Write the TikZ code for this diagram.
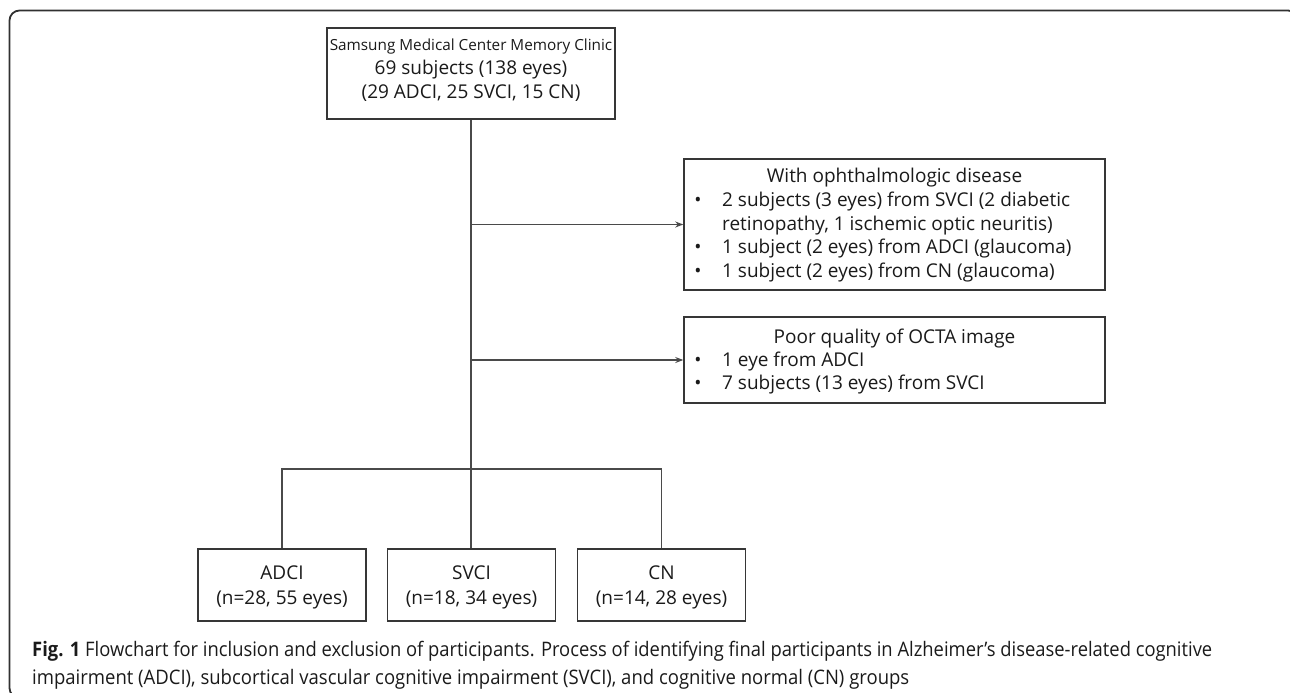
\documentclass[tikz,border=0pt]{standalone}
\usepackage{graphicx}
\usepackage{fontspec}
\setmainfont{Open Sans}
\newfontfamily\capfont{Open Sans}[FakeStretch=0.74]
\usetikzlibrary{arrows.meta}
\definecolor{boxline}{HTML}{363636}
\definecolor{connline}{HTML}{4A4A4A}
\definecolor{ink}{HTML}{1A1A1A}
\tikzset{
  framebox/.style={draw=ink!90, line width=1.8pt, rounded corners=10pt},
  flowbox/.style={draw=boxline, line width=1.5pt, rectangle, inner sep=0pt, fill=white},
  conn/.style={draw=connline, line width=1.3pt},
  arr/.style={conn, -{Stealth[length=8pt,width=6pt]}},
  txt/.style={inner sep=0pt, text=ink, font=\fontsize{19}{22}\selectfont},
  smalltxt/.style={inner sep=0pt, text=ink, font=\fontsize{15.3}{18}\selectfont},
  captxt/.style={inner sep=0pt, text=ink, anchor=west, font=\capfont\fontsize{20}{22}\selectfont}
}
\begin{document}
\begin{tikzpicture}[x=1pt,y=-1pt]
\useasboundingbox (0,0) rectangle (1290,693);
\begin{scope}
\clip (0,0) rectangle (1290,693);
\draw[framebox] (9.5,10.5) rectangle (1298,698);
\end{scope}

% top box
\node[flowbox, minimum width=288pt, minimum height=91pt] (top) at (471,73.5) {};
\node[smalltxt] (t1) at (471,46.5) {Samsung Medical Center Memory Clinic};
\node[txt] (t2) at (471,69.5) {69 subjects (138 eyes)};
\node[txt] (t3) at (471,93) {(29 ADCI, 25 SVCI, 15 CN)};

% exclusion box 1
\node[flowbox, minimum width=421pt, minimum height=131pt] (ex1) at (894.5,224.5) {};
\node[txt] (e1t) at (894.5,178) {With ophthalmologic disease};
\node[txt] (e1b1) at (698,202) {•};
\node[txt, anchor=west] (e1l1) at (722,202) {2 subjects (3 eyes) from SVCI (2 diabetic};
\node[txt, anchor=west] (e1l2) at (722,225.5) {retinopathy, 1 ischemic optic neuritis)};
\node[txt] (e1b3) at (698,249) {•};
\node[txt, anchor=west] (e1l3) at (722,249) {1 subject (2 eyes) from ADCI (glaucoma)};
\node[txt] (e1b4) at (698,273) {•};
\node[txt, anchor=west] (e1l4) at (722,273) {1 subject (2 eyes) from CN (glaucoma)};

% exclusion box 2
\node[flowbox, minimum width=421pt, minimum height=86pt] (ex2) at (894.5,360) {};
\node[txt] (e2t) at (894.5,339) {Poor quality of OCTA image};
\node[txt] (e2b1) at (698,362) {•};
\node[txt, anchor=west] (e2l1) at (722,362) {1 eye from ADCI};
\node[txt] (e2b2) at (698,385) {•};
\node[txt, anchor=west] (e2l2) at (722,385) {7 subjects (13 eyes) from SVCI};

% bottom boxes
\node[flowbox, minimum width=168pt, minimum height=72pt] (adci) at (282,585) {};
\node[txt] (a1) at (282,573) {ADCI};
\node[txt] (a2) at (282,600) {(n=28, 55 eyes)};
\node[flowbox, minimum width=168pt, minimum height=72pt] (svci) at (471.5,585) {};
\node[txt] (s1) at (471.5,573) {SVCI};
\node[txt] (s2) at (471.5,600) {(n=18, 34 eyes)};
\node[flowbox, minimum width=168pt, minimum height=72pt] (cn) at (661.5,585) {};
\node[txt] (c1) at (661.5,573) {CN};
\node[txt] (c2) at (661.5,600) {(n=14, 28 eyes)};

% connectors
\coordinate (bar) at (471,469);
\draw[conn] (top.south) -- (top.south |- svci.north);
\draw[conn] (adci.north) -- (adci.north |- bar) -- (cn.north |- bar) -- (cn.north);
\draw[arr] (top.south |- ex1.west) -- (ex1.west);
\draw[arr] (top.south |- ex2.west) -- (ex2.west);

% caption
\node[captxt] (cap1) at (32,651) {\resizebox{1180pt}{\height}{\textbf{Fig. 1} Flowchart for inclusion and exclusion of participants. Process of identifying final participants in Alzheimer’s disease-related cognitive}};
\node[captxt] (cap2) at (32,679) {\resizebox{877pt}{\height}{impairment (ADCI), subcortical vascular cognitive impairment (SVCI), and cognitive normal (CN) groups}};
\end{tikzpicture}
\end{document}
